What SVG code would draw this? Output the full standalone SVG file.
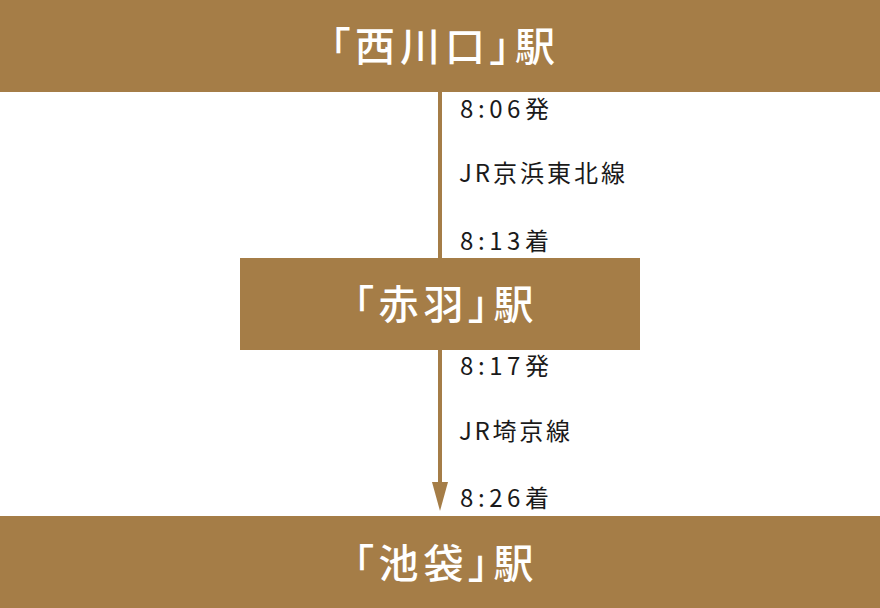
<svg xmlns="http://www.w3.org/2000/svg" width="880" height="608" viewBox="0 0 880 608">
<style>
.bar{fill:#a57d47}
.st{fill:#fff;font-family:"Noto Sans CJK JP","Noto Sans",sans-serif;font-size:40px;font-weight:500;text-anchor:middle;dominant-baseline:central;letter-spacing:5px;font-feature-settings:"palt"}
.lb{fill:#1a1a1a;font-family:"Noto Sans CJK JP","Noto Sans",sans-serif;font-size:24px}
</style>
<g id="connectors">
<line x1="440" y1="92" x2="440" y2="258" stroke="#a57d47" stroke-width="4"/>
<path d="M440,350 V484" stroke="#a57d47" stroke-width="4" fill="none"/>
<path d="M432,482 L448,482 L440,511 Z" fill="#a57d47"/>
</g>
<g id="nishikawaguchi">
<rect class="bar" x="0" y="0" width="880" height="92"/>
<text class="st" x="445" y="44">「西川口」駅</text>
</g>
<g id="akabane">
<rect class="bar" x="240" y="258" width="400" height="92"/>
<text class="st" x="446" y="302">「赤羽」駅</text>
</g>
<g id="ikebukuro">
<rect class="bar" x="0" y="516" width="880" height="92"/>
<text class="st" x="446" y="561">「池袋」駅</text>
</g>
<g id="labels">
<text class="lb" x="460" y="118" textLength="89" lengthAdjust="spacing">8:06発</text>
<text class="lb" x="459" y="182" textLength="166" lengthAdjust="spacing">JR京浜東北線</text>
<text class="lb" x="460" y="250" textLength="89" lengthAdjust="spacing">8:13着</text>
<text class="lb" x="460" y="375" textLength="89" lengthAdjust="spacing">8:17発</text>
<text class="lb" x="459" y="440" textLength="111" lengthAdjust="spacing">JR埼京線</text>
<text class="lb" x="460" y="507" textLength="89" lengthAdjust="spacing">8:26着</text>
</g>
</svg>
